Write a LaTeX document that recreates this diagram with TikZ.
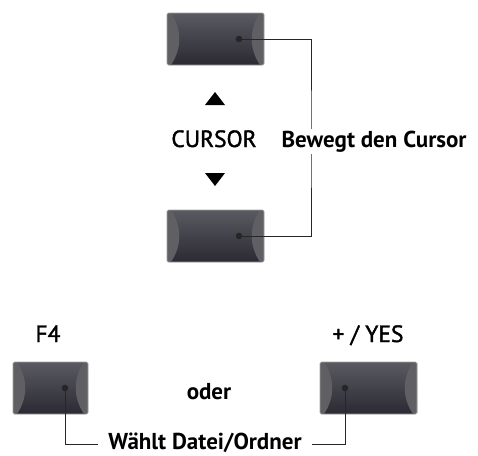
\documentclass[tikz,border=0pt]{standalone}
\usepackage{fontspec}
\setmainfont{PT Sans}
\newfontfamily\halbfett{PT Sans}[FakeBold=1.6]
\usetikzlibrary{calc}
\definecolor{seite}{HTML}{606064}
\definecolor{oben}{HTML}{5A5A62}
\definecolor{unten}{HTML}{2B2A33}
\begin{document}
\begin{tikzpicture}[x=1pt, y=-1pt,
    taste/.style={rectangle, draw=gray!75, line width=0.6pt, rounded corners=1.5pt,
      minimum height=52pt, top color=oben, bottom color=unten,
      path picture={
        \fill[seite] (path picture bounding box.north west) -- ++(4pt,0)
          to[bend left=32] ($(path picture bounding box.south west)+(4pt,0)$)
          -- (path picture bounding box.south west) -- cycle;
        \fill[seite] (path picture bounding box.north east) -- ++(-4pt,0)
          to[bend right=32] ($(path picture bounding box.south east)+(-4pt,0)$)
          -- (path picture bounding box.south east) -- cycle;
      }},
    leitung/.style={line width=0.8pt, black!85},
    punkt/.style={fill=black!85},
    titel/.style={font=\fontsize{23.5}{26}\halbfett, anchor=base, inner sep=0pt},
    hinweis/.style={font=\fontsize{23}{26}\selectfont\bfseries, anchor=base, fill=white, inner sep=2pt}
  ]
    \useasboundingbox (0,0) rectangle (478,455);

    % Cursor-Tasten
    \node[taste, minimum width=97pt] (auf) at (215.5,39) {};
    \node[taste, minimum width=97pt] (ab) at (215.5,236) {};
    \coordinate (aufpunkt) at (239,39);
    \coordinate (abpunkt) at (239,236);
    \coordinate (rechts) at (311,140);

    \fill (205,105) -- (225,105) -- (215,92) -- cycle;
    \fill (205,173) -- (225,173) -- (215,186) -- cycle;
    \node[titel] (cursor) at (214,147) {CURSOR};

    \draw[leitung] (aufpunkt) -| (rechts) |- (abpunkt);
    \fill[punkt] (aufpunkt) circle (3.3pt);
    \fill[punkt] (abpunkt) circle (3.3pt);
    \node[hinweis] (bewegt) at (374,147) {Bewegt den Cursor};

    % F4 oder + / YES
    \node[titel] (ffour) at (48,342) {F4};
    \node[titel] (yes) at (368,342) {+ / YES};
    \node[taste, minimum width=75pt] (dateitaste) at (50.5,388) {};
    \node[taste, minimum width=97pt] (yestaste) at (368.5,388) {};
    \node[font=\fontsize{23}{26}\selectfont\bfseries, anchor=base, inner sep=0pt] (oder) at (209,399) {oder};
    \coordinate (linkspunkt) at (65,388);
    \coordinate (rechtspunkt) at (345,388);

    \node[hinweis, inner xsep=10pt, inner ysep=0pt] (waehlt) at (205,449.5) {Wählt Datei/Ordner};
    \draw[leitung] (linkspunkt) |- (waehlt.west |- 0,444);
    \draw[leitung] (rechtspunkt) |- (waehlt.east |- 0,444);
    \fill[punkt] (linkspunkt) circle (3.3pt);
    \fill[punkt] (rechtspunkt) circle (3.3pt);
  \end{tikzpicture}
\end{document}
